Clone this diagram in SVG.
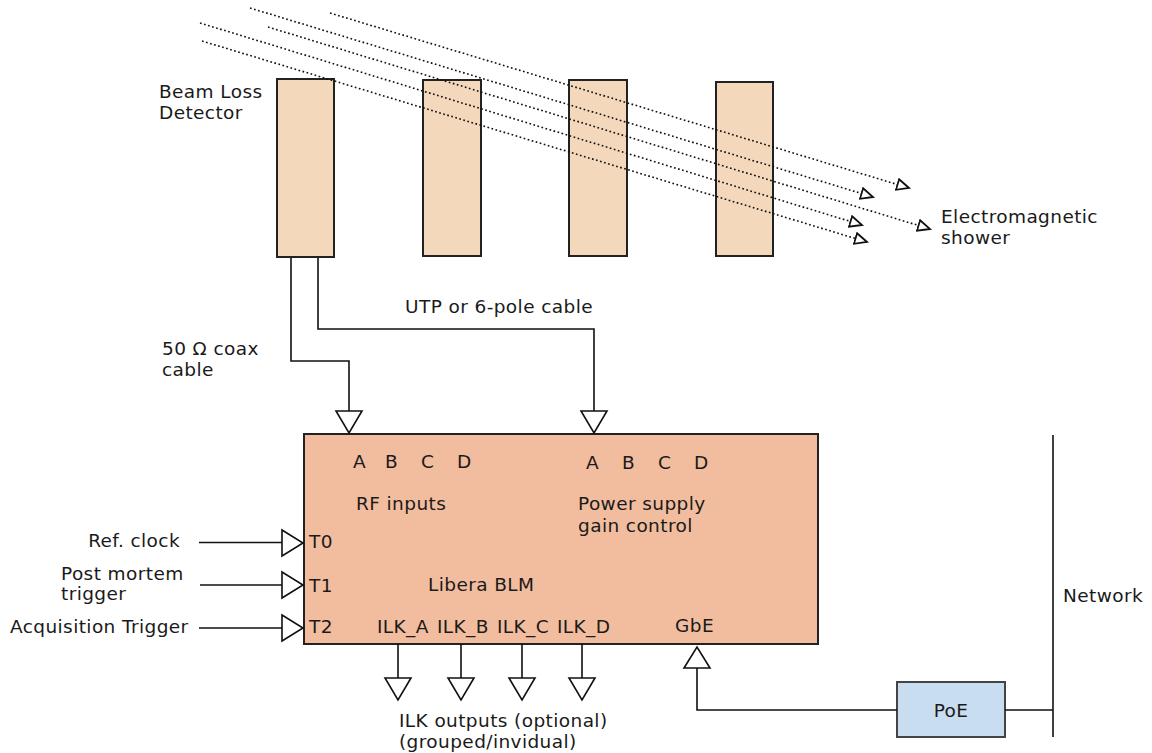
<svg xmlns="http://www.w3.org/2000/svg" width="1152" height="753" viewBox="0 0 1152 753">
<defs>
<style>
.det{fill:#f3d8bc;stroke:#222;stroke-width:2}
.main{fill:#f2bd9e;stroke:#222;stroke-width:2}
.poe{fill:#c9ddf1;stroke:#444;stroke-width:2}
.wire{fill:none;stroke:#111;stroke-width:1.6}
.tri{fill:#fff;stroke:#111;stroke-width:1.6;stroke-linejoin:miter}
.dot{fill:none;stroke:#111;stroke-width:1.6;stroke-dasharray:1.7 2.5;marker-end:url(#oa)}
text{font-family:"DejaVu Sans",sans-serif;font-size:18.5px;letter-spacing:0.4px;fill:#1a1a1a}
</style>
<marker id="oa" markerUnits="userSpaceOnUse" markerWidth="16" markerHeight="14" refX="13" refY="6.5" orient="auto" viewBox="0 0 16 14">
<path d="M1,1 L13,6.5 L1,12 Z" fill="#fff" stroke="#111" stroke-width="1.8"/>
</marker>
</defs>
<rect width="1152" height="753" fill="#fff"/>

<g id="detector1"><rect class="det" x="277" y="79" width="57" height="178"/></g>
<g id="detector2"><rect class="det" x="423" y="80" width="58" height="176"/></g>
<g id="detector3"><rect class="det" x="569" y="80" width="58" height="176"/></g>
<g id="detector4"><rect class="det" x="716" y="82" width="57" height="174"/></g>

<g id="shower">
<line class="dot" x1="330" y1="13" x2="909" y2="188"/>
<line class="dot" x1="250" y1="8" x2="873" y2="197"/>
<line class="dot" x1="268" y1="27" x2="930" y2="229"/>
<line class="dot" x1="200" y1="23" x2="862" y2="225"/>
<line class="dot" x1="202" y1="41" x2="867" y2="242"/>
</g>

<g id="labels-top">
<text x="159" y="98">Beam Loss</text>
<text x="159" y="119">Detector</text>
<text x="941" y="223">Electromagnetic</text>
<text x="941" y="244">shower</text>
<text x="405" y="313">UTP or 6-pole cable</text>
<text x="162" y="355">50 Ω coax</text>
<text x="162" y="376">cable</text>
</g>

<g id="libera">
<rect class="main" x="304" y="434" width="514" height="210"/>
<text x="353" y="468">A</text><text x="385" y="468">B</text><text x="421" y="468">C</text><text x="457" y="468">D</text>
<text x="356" y="510">RF inputs</text>
<text x="586" y="469">A</text><text x="622" y="469">B</text><text x="658" y="469">C</text><text x="694" y="469">D</text>
<text x="578" y="510">Power supply</text>
<text x="578" y="532">gain control</text>
<text x="309" y="548">T0</text>
<text x="309" y="592">T1</text>
<text x="309" y="633">T2</text>
<text x="428" y="591">Libera BLM</text>
<text x="377" y="633">ILK_A</text><text x="437" y="633">ILK_B</text><text x="497" y="633">ILK_C</text><text x="557" y="633">ILK_D</text>
<text x="675" y="632">GbE</text>
</g>

<g id="poe">
<rect class="poe" x="897" y="682" width="108" height="55"/>
<text x="951" y="717" text-anchor="middle">PoE</text>
</g>

<g id="connectors">
<path class="wire" d="M291,258 V361 H349 V411"/>
<path class="wire" d="M318,258 V329 H594 V411"/>
<polygon class="tri" points="336,411 362,411 349,433"/>
<polygon class="tri" points="581,411 607,411 594,433"/>
<path class="wire" d="M199,542.5 H282"/>
<path class="wire" d="M200,585 H282"/>
<path class="wire" d="M199,628 H282"/>
<polygon class="tri" points="282,530 282,556 303,543"/>
<polygon class="tri" points="282,572 282,598 303,585"/>
<polygon class="tri" points="282,615 282,641 303,628"/>
<path class="wire" d="M398,644 V678 M461,644 V678 M522,644 V678 M582,644 V678"/>
<polygon class="tri" points="385,678 411,678 398,700"/>
<polygon class="tri" points="448,678 474,678 461,700"/>
<polygon class="tri" points="509,678 535,678 522,700"/>
<polygon class="tri" points="569,678 595,678 582,700"/>
<path class="wire" d="M697,668 V710 H897"/>
<polygon class="tri" points="684,668 710,668 697,647"/>
<path class="wire" d="M1005,710 H1053"/>
<path class="wire" d="M1053,435 V737"/>
</g>

<g id="labels-side">
<text x="180" y="547" text-anchor="end">Ref. clock</text>
<text x="61" y="580">Post mortem</text>
<text x="61" y="600">trigger</text>
<text x="10" y="633">Acquisition Trigger</text>
<text x="1063" y="602">Network</text>
<text x="399" y="727">ILK outputs (optional)</text>
<text x="399" y="748">(grouped/invidual)</text>
</g>
</svg>
